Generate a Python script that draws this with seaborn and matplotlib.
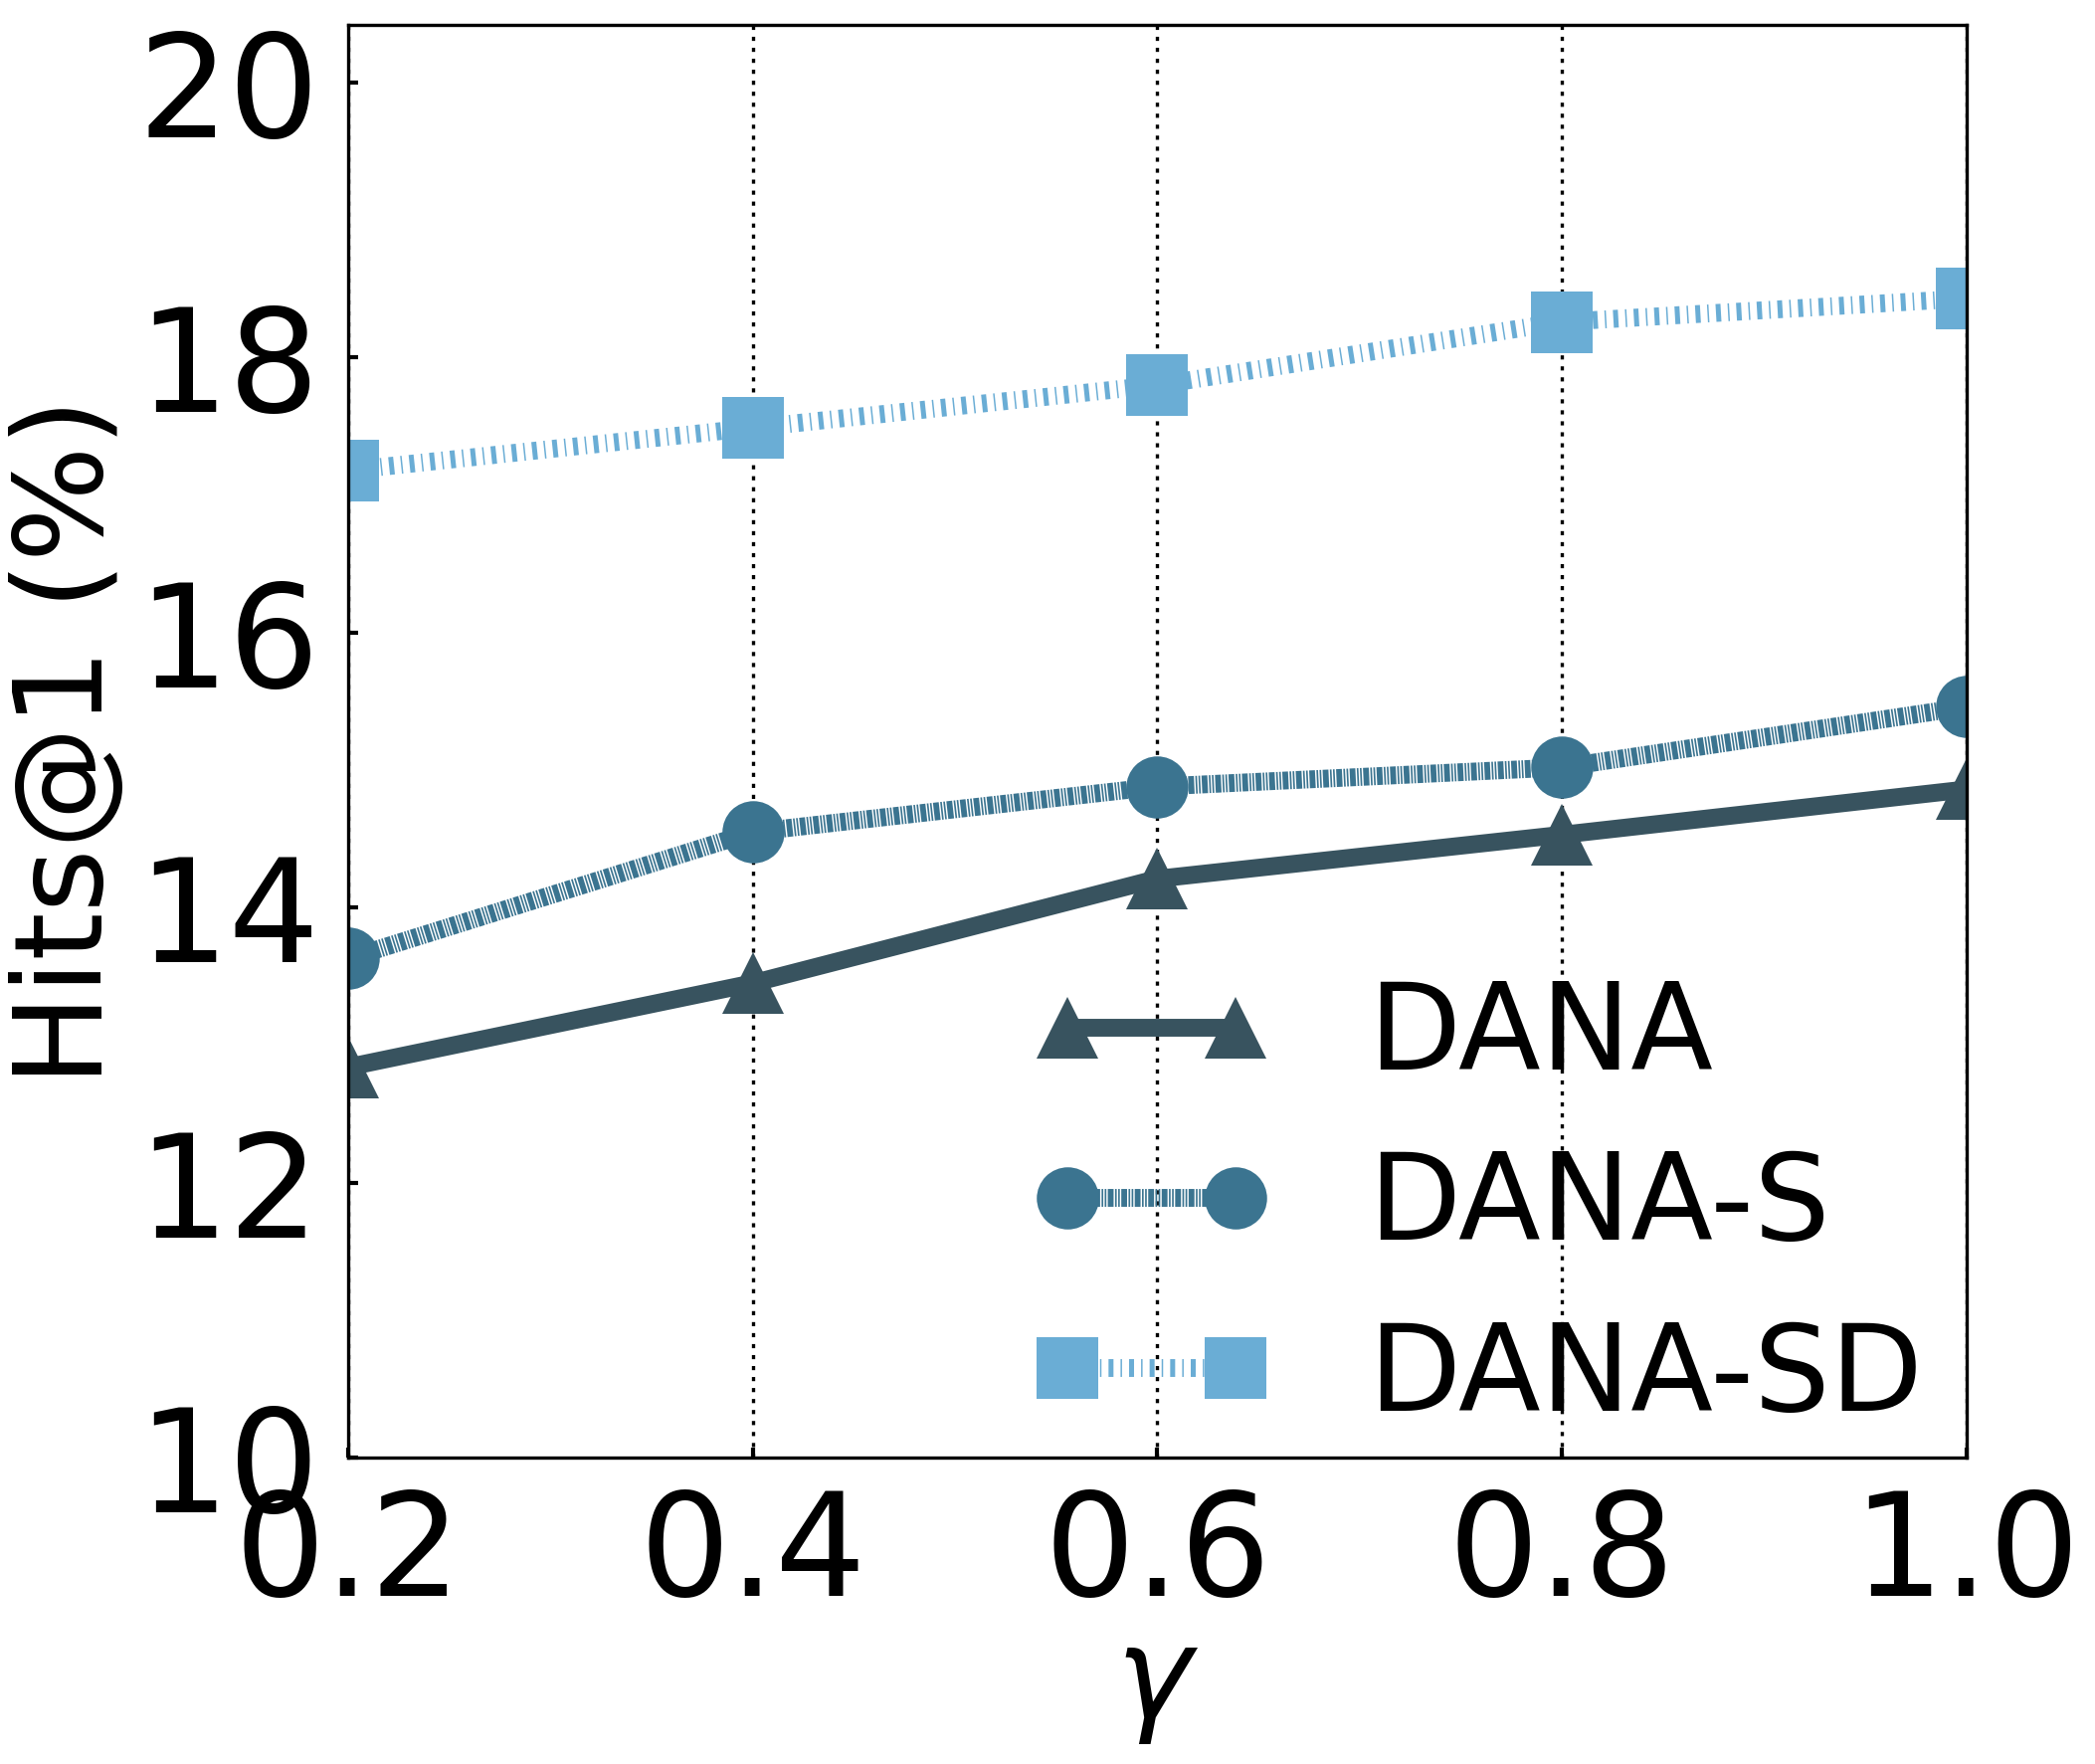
import matplotlib
matplotlib.use("Agg")
import matplotlib.pyplot as plt
import seaborn as sns
import pandas as pd

# gamma values on the x axis
gamma = [0.2, 0.4, 0.6, 0.8, 1.0]

# Hits@1 (%)
dana = [12.84, 13.45, 14.21, 14.53, 14.86]
dana_s = [13.63, 14.55, 14.88, 15.02, 15.46]
dana_sd = [17.18, 17.49, 17.80, 18.26, 18.43]

methods = ['DANA', 'DANA-S', 'DANA-SD']
colors = ['#38535f', '#3b7490', '#6aadd5']
markers = ['^', 'o', 's']
# dash patterns in points (not scaled by line width)
dashes = [None, (0, (1.4, 0.35, 0.4, 0.35, 0.4, 0.35)), (0, (1.2, 1.7, 0.36, 1.7))]

sns.set_style("white")
plt.rcParams['font.family'] = ['DejaVu Sans']
plt.rcParams['mathtext.fontset'] = 'dejavusans'
plt.rcParams['lines.scale_dashes'] = False
plt.rcParams['text.color'] = 'black'
plt.rcParams['axes.labelcolor'] = 'black'
plt.rcParams['xtick.color'] = 'black'
plt.rcParams['ytick.color'] = 'black'

fig = plt.figure(figsize=(7.02, 5.91), dpi=300)
ax = fig.add_axes([0.1662, 0.1737, 0.7725, 0.8122])

series = [dana, dana_s, dana_sd]
for n in range(len(methods)):
    df = pd.DataFrame({'gamma': gamma, 'hits': series[n]})
    ls = '-' if dashes[n] is None else dashes[n]
    sns.lineplot(x='gamma', y='hits', data=df, ax=ax, label=methods[n],
                 color=colors[n], marker=markers[n], markersize=15,
                 markeredgewidth=0, linewidth=4.3, linestyle=ls)

ax.set_xlim(0.2, 1.0)
ax.set_ylim(10, 20.42)
ax.set_xticks([0.2, 0.4, 0.6, 0.8, 1.0])
ax.set_xticklabels(['0.2', '0.4', '0.6', '0.8', '1.0'])
ax.set_yticks([10, 12, 14, 16, 18, 20])

#dotted vertical grid only
ax.grid(axis='x', linestyle=':', color='black', linewidth=0.8)
ax.grid(axis='y', visible=False)
for s in ax.spines.values():
    s.set_color('black')
    s.set_linewidth(0.8)

ax.tick_params(axis='both', direction='in', labelsize=34.5, length=2.5,
               width=1, pad=7, color='black', labelcolor='black',
               left=True, bottom=True)

ax.set_xlabel(r'$\gamma$', fontsize=31, labelpad=-1)
ax.set_ylabel('Hits@1 (%)', fontsize=29.5)
ax.yaxis.set_label_coords(-0.136, 0.5)

ax.legend(loc='lower right', frameon=False, fontsize=29, numpoints=2,
          handlelength=2.0, handletextpad=0.8, labelspacing=0.45,
          bbox_to_anchor=(1.04, -0.06))

fig.savefig('out.png', dpi=300)
